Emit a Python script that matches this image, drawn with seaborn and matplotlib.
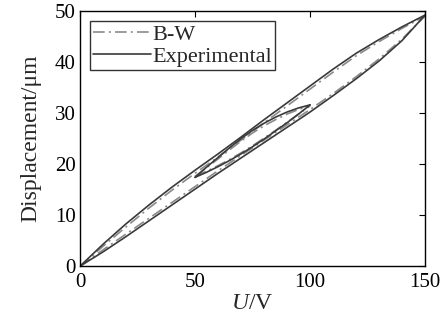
import matplotlib
matplotlib.use("Agg")
import matplotlib.pyplot as plt
import seaborn as sns
import pandas as pd

# ---- data ----
u_major = [0, 10, 20, 30, 40, 50, 60, 70, 80, 90, 100, 110, 120, 130, 140, 150]
exp_up = [0, 2.8, 5.8, 8.9, 12.0, 15.1, 18.2, 21.2, 24.2, 27.2, 30.2, 33.4, 36.7, 40.2, 44.2, 49.2]
exp_down = [0, 4.3, 8.3, 12.0, 15.5, 18.8, 22.0, 25.3, 28.7, 32.0, 35.3, 38.6, 41.7, 44.4, 46.9, 49.2]
bw_up = [0, 3.2, 6.3, 9.4, 12.5, 15.6, 18.7, 21.7, 24.7, 27.7, 30.7, 33.8, 37.1, 40.6, 44.5, 49.0]
bw_down = [0, 3.9, 7.7, 11.4, 14.9, 18.2, 21.4, 24.7, 28.1, 31.4, 34.7, 38.0, 41.2, 44.0, 46.6, 49.0]

u_minor = [50, 55, 60, 65, 70, 75, 80, 85, 90, 95, 100]
exp_minor_up = [17.4, 18.4, 19.5, 20.7, 22.0, 23.4, 24.9, 26.5, 28.1, 29.8, 31.6]
exp_minor_down = [17.4, 19.4, 21.3, 23.2, 25.0, 26.6, 28.0, 29.2, 30.2, 31.0, 31.6]
bw_minor_up = [17.6, 18.6, 19.7, 20.9, 22.2, 23.6, 25.1, 26.6, 28.2, 29.8, 31.4]
bw_minor_down = [17.6, 19.3, 21.0, 22.8, 24.5, 26.1, 27.5, 28.7, 29.8, 30.7, 31.4]

x_ticks = [0, 50, 100, 150]
y_ticks = [0, 10, 20, 30, 40, 50]

sns.set_theme(style="white")
plt.rcParams["font.family"] = ["Liberation Serif", "DejaVu Serif"]
plt.rcParams["mathtext.fontset"] = "custom"
plt.rcParams["mathtext.it"] = "Liberation Serif:italic"
plt.rcParams["mathtext.rm"] = "Liberation Serif"

fig = plt.figure(figsize=(4.4, 3.23), dpi=100)
ax = fig.add_axes([0.182, 0.176, 0.784, 0.790])

exp_c = "#3a3a3a"
bw_c = "#8a8a8a"
dashdot = (0, (7, 2.5, 1.2, 2.5))

def branch(x, y, color, ls, label=None):
    df = pd.DataFrame({"U": x, "D": y})
    sns.lineplot(data=df, x="U", y="D", sort=False, estimator=None, color=color,
                 linestyle=ls, linewidth=1.2, ax=ax, label=label)

# B-W model
branch(u_major, bw_up, bw_c, dashdot, "B-W")
branch(u_major, bw_down, bw_c, dashdot)
branch(u_minor, bw_minor_up, bw_c, dashdot)
branch(u_minor, bw_minor_down, bw_c, dashdot)
# Experimental
branch(u_major, exp_up, exp_c, "-", "Experimental")
branch(u_major, exp_down, exp_c, "-")
branch(u_minor, exp_minor_up, exp_c, "-")
branch(u_minor, exp_minor_down, exp_c, "-")

ax.set_xlim(0, 150)
ax.set_ylim(0, 50)
ax.set_xticks(x_ticks)
ax.set_yticks(y_ticks)
ax.tick_params(direction="in", top=True, right=True, length=4, width=0.8,
               labelsize=15, colors="black", pad=3)
ax.tick_params(axis="x", pad=5)
for s in ax.spines.values():
    s.set_color("black")
    s.set_linewidth(1.0)

ax.set_xlabel(r"$U$/V", fontsize=17, labelpad=1)
ax.set_ylabel("Displacement/μm", fontsize=17, labelpad=10)

leg = ax.legend(loc="upper left", fontsize=16, frameon=True, fancybox=False,
                edgecolor="black", handlelength=2.6, handletextpad=0.05,
                borderpad=0.15, labelspacing=0.05, borderaxespad=0.45)
leg.get_frame().set_linewidth(1.0)

fig.savefig("out.png", dpi=100)
